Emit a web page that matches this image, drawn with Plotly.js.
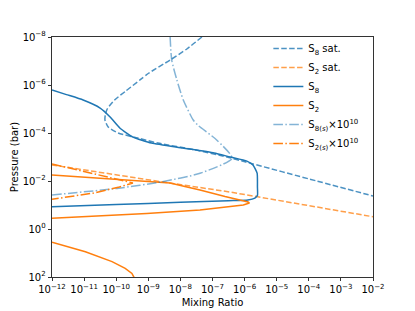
<!DOCTYPE html>
<html>
<head>
<meta charset="utf-8">
<script src="https://cdn.plot.ly/plotly-3.0.1.min.js"></script>
<style>html,body{margin:0;padding:0;background:#fff;}#chart{width:415px;height:311px;}</style>
</head>
<body>
<div id="chart"></div>
<script>
// log10 values (pressure in bar, mixing ratio)
const s8SatLogP = [-8, -7.5, -7.04, -6.5, -6.21, -5.75, -5.375, -5.0, -4.75, -4.54, -4.25, -4.0, -3.79, -3.58, -3.3, -3.0, -2.8, -2.0, -1.375];
const s8SatLogX = [-7.33, -7.8, -8.32, -8.98, -9.26, -9.7, -10.05, -10.28, -10.34, -10.35, -10.25, -9.94, -9.32, -8.7, -7.55, -6.55, -5.99, -3.75, -2.0];

const s2SatLogP = [-2.67, -2.32, -2.04, -1.54, -1.33, -0.51];
const s2SatLogX = [-12, -10.34, -8.95, -6.45, -5.52, -2.0];

const s8LogP = [-5.79, -5.6, -5.375, -5.04, -4.67, -4.2, -3.83, -3.58, -3.375, -3.17, -3.0, -2.83, -2.67, -2.33, -1.75, -1.4, -1.29, -1.21, -1.18, -1.11, -1.02, -0.93];
const s8LogX = [-12, -11.55, -11.03, -10.5, -10.19, -9.88, -9.48, -8.9, -7.92, -6.95, -6.45, -5.93, -5.74, -5.61, -5.6, -5.6, -5.68, -5.9, -6.5, -8.0, -10.0, -12];

// S2 has two separate segments (null = gap)
const s2LogP = [-2.25, -2.125, -2.0, -1.92, -1.77, -1.625, -1.35, -1.125, -1.08, -1.0, -0.79, -0.65, -0.45, null, 0.55, 0.95, 1.36, 1.64, 1.85, 2.0, 2.05];
const s2LogX = [-12, -10.5, -8.95, -8.32, -7.86, -7.39, -6.61, -5.89, -5.85, -6.04, -7.39, -9.05, -12, null, -12, -10.96, -10.13, -9.72, -9.51, -9.44, -9.43];

const s8sLogP = [-8.0, -7.04, -6.21, -5.375, -4.54, -4.32, -3.71, -2.95, -2.32, -1.97, -1.70, -1.42];
const s8sLogX = [-8.32, -8.27, -8.11, -7.91, -7.6, -7.45, -6.87, -6.39, -7.39, -8.57, -9.92, -12];

const s2sLogP = [-2.71, -2.3, -2.05, -1.92, -1.75, -1.5, -1.24];
const s2sLogX = [-12, -10.75, -9.9, -9.48, -9.9, -10.7, -12];

const xTickExp = [-12, -11, -10, -9, -8, -7, -6, -5, -4, -3, -2];
const yTickExp = [-8, -6, -4, -2, 0, 2];

const pw = v => (v === null ? null : Math.pow(10, v));
const sup = e => '10<sup>' + (e < 0 ? '\u2212' + (-e) : e) + '</sup>';

const C0 = '#1f77b4', C1 = '#ff7f0e';
const LW = 1.5;
const DASH = '5.5px,2.4px';
const DASHDOT = '9.6px,2.4px,1.5px,2.4px';
const FONT = {family: 'DejaVu Sans', size: 10, color: '#000'};

const traces = [
  {x: s8SatLogX.map(pw), y: s8SatLogP.map(pw), name: 'S<sub>8</sub> sat.', line: {color: 'rgba(31,119,180,0.8)', width: LW, dash: DASH, shape: 'spline', smoothing: 0.6}},
  {x: s2SatLogX.map(pw), y: s2SatLogP.map(pw), name: 'S<sub>2</sub> sat.', line: {color: 'rgba(255,127,14,0.75)', width: LW, dash: DASH}},
  {x: s8LogX.map(pw), y: s8LogP.map(pw), name: 'S<sub>8</sub>', line: {color: C0, width: LW, shape: 'spline', smoothing: 0.5}},
  {x: s2LogX.map(pw), y: s2LogP.map(pw), name: 'S<sub>2</sub>', line: {color: C1, width: LW}, connectgaps: false},
  {x: s8sLogX.map(pw), y: s8sLogP.map(pw), name: 'S<sub>8(<i>s</i>)</sub>×10<sup>10</sup>', line: {color: 'rgba(31,119,180,0.55)', width: LW, dash: DASHDOT, shape: 'spline', smoothing: 0.6}},
  {x: s2sLogX.map(pw), y: s2sLogP.map(pw), name: 'S<sub>2(<i>s</i>)</sub>×10<sup>10</sup>', line: {color: C1, width: LW, dash: DASHDOT}}
].map(t => Object.assign({type: 'scatter', mode: 'lines', hoverinfo: 'skip'}, t));

const axisCommon = {
  type: 'log', showgrid: false, zeroline: false,
  showline: true, mirror: true, linecolor: '#000', linewidth: 0.8,
  ticks: 'outside', ticklen: 3.5, tickwidth: 0.8, tickcolor: '#000',
  tickfont: FONT
};

const layout = {
  width: 415, height: 311,
  margin: {l: 52, r: 41.5, t: 37, b: 34},
  paper_bgcolor: '#fff', plot_bgcolor: '#fff',
  font: FONT,
  showlegend: true,
  legend: {x: 0.674, y: 1.0125, xanchor: 'left', yanchor: 'top', bgcolor: 'rgba(255,255,255,0)', borderwidth: 0,
           font: FONT, itemwidth: 30, tracegroupgap: 0},
  xaxis: Object.assign({}, axisCommon, {
    range: [-12, -2],
    tickvals: xTickExp.map(pw), ticktext: xTickExp.map(sup),
    title: {text: 'Mixing Ratio', font: FONT, standoff: 4}
  }),
  yaxis: Object.assign({}, axisCommon, {
    range: [2, -8],
    tickvals: yTickExp.map(pw), ticktext: yTickExp.map(sup),
    title: {text: 'Pressure (bar)', font: FONT, standoff: 2}
  })
};

Plotly.newPlot('chart', traces, layout, {staticPlot: true, displayModeBar: false});
</script>
</body>
</html>
